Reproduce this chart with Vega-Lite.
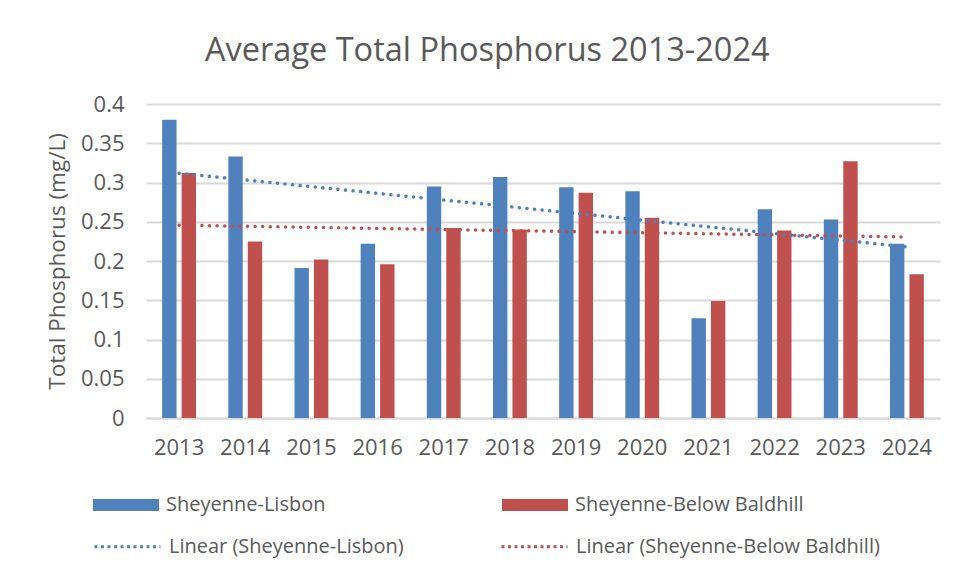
{
  "$schema": "https://vega.github.io/schema/vega-lite/v6.json",
  "width": 794,
  "height": 314,
  "autosize": "none",
  "padding": {"left": 146, "top": 104, "right": 17, "bottom": 161},
  "background": "white",
  "config": {
    "font": "Open Sans",
    "view": {"stroke": null}
  },
  "title": {
    "text": "Average Total Phosphorus 2013-2024",
    "anchor": "start",
    "frame": "group",
    "dx": 59,
    "offset": 0,
    "baseline": "alphabetic",
    "fontSize": 32.5,
    "fontWeight": "normal",
    "color": "#595959",
    "font": "Open Sans"
  },
  "data": {
    "values": [
      {"year": 2013, "site": "Sheyenne-Lisbon", "trend": "Linear (Sheyenne-Lisbon)", "value": 0.380},
      {"year": 2013, "site": "Sheyenne-Below Baldhill", "trend": "Linear (Sheyenne-Below Baldhill)", "value": 0.312},
      {"year": 2014, "site": "Sheyenne-Lisbon", "trend": "Linear (Sheyenne-Lisbon)", "value": 0.333},
      {"year": 2014, "site": "Sheyenne-Below Baldhill", "trend": "Linear (Sheyenne-Below Baldhill)", "value": 0.225},
      {"year": 2015, "site": "Sheyenne-Lisbon", "trend": "Linear (Sheyenne-Lisbon)", "value": 0.191},
      {"year": 2015, "site": "Sheyenne-Below Baldhill", "trend": "Linear (Sheyenne-Below Baldhill)", "value": 0.202},
      {"year": 2016, "site": "Sheyenne-Lisbon", "trend": "Linear (Sheyenne-Lisbon)", "value": 0.222},
      {"year": 2016, "site": "Sheyenne-Below Baldhill", "trend": "Linear (Sheyenne-Below Baldhill)", "value": 0.196},
      {"year": 2017, "site": "Sheyenne-Lisbon", "trend": "Linear (Sheyenne-Lisbon)", "value": 0.295},
      {"year": 2017, "site": "Sheyenne-Below Baldhill", "trend": "Linear (Sheyenne-Below Baldhill)", "value": 0.242},
      {"year": 2018, "site": "Sheyenne-Lisbon", "trend": "Linear (Sheyenne-Lisbon)", "value": 0.307},
      {"year": 2018, "site": "Sheyenne-Below Baldhill", "trend": "Linear (Sheyenne-Below Baldhill)", "value": 0.240},
      {"year": 2019, "site": "Sheyenne-Lisbon", "trend": "Linear (Sheyenne-Lisbon)", "value": 0.294},
      {"year": 2019, "site": "Sheyenne-Below Baldhill", "trend": "Linear (Sheyenne-Below Baldhill)", "value": 0.287},
      {"year": 2020, "site": "Sheyenne-Lisbon", "trend": "Linear (Sheyenne-Lisbon)", "value": 0.289},
      {"year": 2020, "site": "Sheyenne-Below Baldhill", "trend": "Linear (Sheyenne-Below Baldhill)", "value": 0.255},
      {"year": 2021, "site": "Sheyenne-Lisbon", "trend": "Linear (Sheyenne-Lisbon)", "value": 0.127},
      {"year": 2021, "site": "Sheyenne-Below Baldhill", "trend": "Linear (Sheyenne-Below Baldhill)", "value": 0.149},
      {"year": 2022, "site": "Sheyenne-Lisbon", "trend": "Linear (Sheyenne-Lisbon)", "value": 0.266},
      {"year": 2022, "site": "Sheyenne-Below Baldhill", "trend": "Linear (Sheyenne-Below Baldhill)", "value": 0.239},
      {"year": 2023, "site": "Sheyenne-Lisbon", "trend": "Linear (Sheyenne-Lisbon)", "value": 0.253},
      {"year": 2023, "site": "Sheyenne-Below Baldhill", "trend": "Linear (Sheyenne-Below Baldhill)", "value": 0.327},
      {"year": 2024, "site": "Sheyenne-Lisbon", "trend": "Linear (Sheyenne-Lisbon)", "value": 0.222},
      {"year": 2024, "site": "Sheyenne-Below Baldhill", "trend": "Linear (Sheyenne-Below Baldhill)", "value": 0.183}
    ]
  },
  "encoding": {
    "x": {
      "field": "year",
      "type": "ordinal",
      "scale": {"paddingInner": 0, "paddingOuter": 0},
      "axis": {
        "title": null,
        "labelAngle": 0,
        "labelFontSize": 22,
        "labelColor": "#595959",
        "labelPadding": 19,
        "ticks": false,
        "domainColor": "#D9D9D9",
        "domainWidth": 2
      }
    },
    "y": {
      "field": "value",
      "type": "quantitative",
      "scale": {"domain": [0, 0.4], "nice": false},
      "axis": {
        "title": "Total Phosphorus (mg/L)",
        "titleFontSize": 22.5,
        "titleFontWeight": "normal",
        "titleColor": "#595959",
        "titlePadding": 11,
        "tickCount": 8,
        "labelOverlap": false,
        "labelFlush": false,
        "format": ".2~f",
        "labelFontSize": 22,
        "labelColor": "#595959",
        "labelPadding": 22,
        "ticks": false,
        "domain": false,
        "gridColor": "#D9D9D9",
        "gridWidth": 2
      }
    }
  },
  "layer": [
    {
      "mark": {"type": "bar"},
      "encoding": {
        "xOffset": {
          "field": "site",
          "type": "nominal",
          "sort": ["Sheyenne-Lisbon", "Sheyenne-Below Baldhill"],
          "scale": {"paddingInner": 0.26, "paddingOuter": 0.83}
        },
        "color": {
          "field": "site",
          "type": "nominal",
          "scale": {
            "domain": ["Sheyenne-Lisbon", "Sheyenne-Below Baldhill"],
            "range": ["#4F81BD", "#C0504D"]
          },
          "legend": {
            "title": null,
            "orient": "none",
            "legendX": -53,
            "legendY": 368,
            "direction": "horizontal",
            "columns": 2,
            "columnPadding": 176,
            "symbolSize": 4356,
            "symbolType": "M-1,-0.18H1V0.18H-1Z",
            "symbolStrokeWidth": 0,
            "labelFontSize": 20,
            "labelLimit": 400,
            "labelColor": "#595959",
            "labelOffset": 7
          }
        }
      }
    },
    {
      "transform": [
        {"regression": "value", "on": "year", "groupby": ["trend"], "method": "linear", "extent": [2013, 2024]}
      ],
      "mark": {"type": "line", "strokeDash": [0.1, 7.5], "strokeCap": "round", "strokeWidth": 3.5},
      "encoding": {
        "stroke": {
          "field": "trend",
          "type": "nominal",
          "scale": {
            "domain": ["Linear (Sheyenne-Lisbon)", "Linear (Sheyenne-Below Baldhill)"],
            "range": ["#4F81BD", "#C0504D"]
          },
          "legend": {
            "title": null,
            "orient": "none",
            "legendX": -53,
            "legendY": 408,
            "direction": "horizontal",
            "columns": 2,
            "columnPadding": 91,
            "symbolSize": 4356,
            "symbolType": "stroke",
            "symbolStrokeWidth": 3,
            "symbolDash": [3, 3.5],
            "labelFontSize": 20,
            "labelLimit": 400,
            "labelColor": "#595959",
            "labelOffset": 7
          }
        }
      }
    }
  ]
}
